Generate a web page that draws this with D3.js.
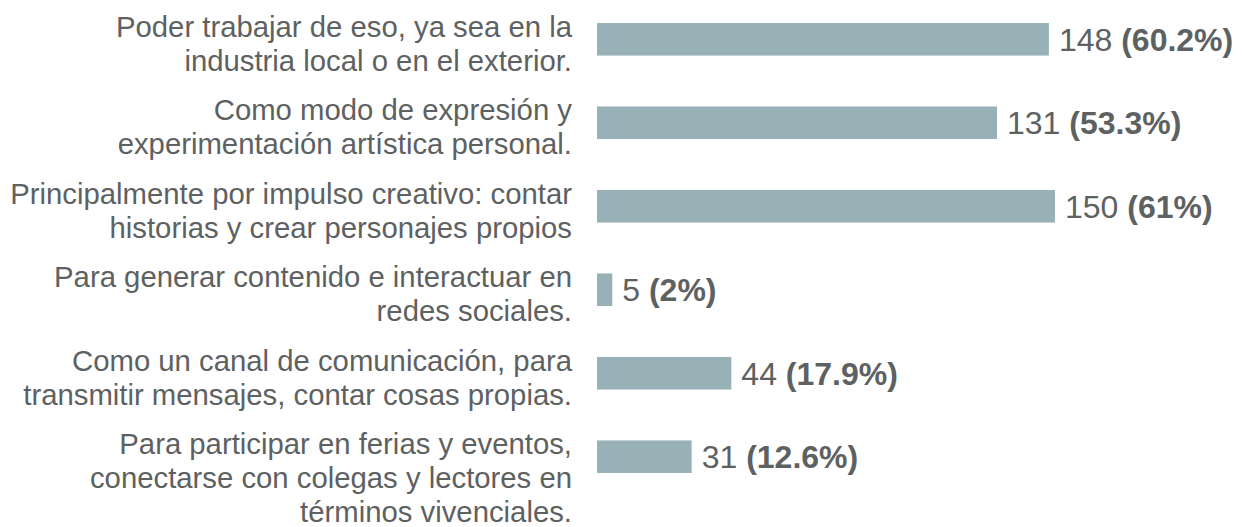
<!DOCTYPE html>
<html>
<head>
<meta charset="utf-8">
<script src="https://cdn.jsdelivr.net/npm/d3@7"></script>
<style>
  html, body { margin: 0; padding: 0; background: #fff; }
  svg { display: block; }
  text { font-family: "Liberation Sans", Arial, sans-serif; }
</style>
</head>
<body>
<div id="chart"></div>
<script>
// answer texts, already broken in lines like the original
const categories = [
  ['Poder trabajar de eso, ya sea en la', 'industria local o en el exterior.'],
  ['Como modo de expresión y', 'experimentación artística personal.'],
  ['Principalmente por impulso creativo: contar', 'historias y crear personajes propios'],
  ['Para generar contenido e interactuar en', 'redes sociales.'],
  ['Como un canal de comunicación, para', 'transmitir mensajes, contar cosas propias.'],
  ['Para participar en ferias y eventos,', 'conectarse con colegas y lectores en', 'términos vivenciales.']
];
const counts = [148, 131, 150, 5, 44, 31];
const percents = ['60.2%', '53.3%', '61%', '2%', '17.9%', '12.6%'];

const W = 1242, H = 527;
const barLeft = 597;
const textColor = '#5d6161';

const svg = d3.select('#chart').append('svg')
  .attr('width', W).attr('height', H);

const idx = d3.range(categories.length);

const x = d3.scaleLinear().domain([0, 150]).range([0, 458]);
const y = d3.scaleBand().domain(idx).range([23, 473]).paddingInner(0.61);

const row = svg.selectAll('g.row').data(idx).enter().append('g')
  .attr('class', 'row');

row.append('rect')
  .attr('x', barLeft)
  .attr('y', i => y(i))
  .attr('width', i => x(counts[i]))
  .attr('height', y.bandwidth())
  .attr('fill', '#98b1b7');

// value labels: count + bold percent
const val = row.append('text')
  .attr('x', i => barLeft + x(counts[i]) + 10)
  .attr('y', i => y(i) + y.bandwidth() / 2)
  .attr('dy', '0.36em')
  .attr('fill', textColor)
  .attr('font-size', '32px');
val.append('tspan').text(i => counts[i] + ' ');
val.append('tspan').attr('font-weight', 'bold').text(i => '(' + percents[i] + ')');

// category labels, right aligned
const lab = row.append('text')
  .attr('text-anchor', 'end')
  .attr('fill', textColor)
  .attr('font-size', '29.3px');
lab.selectAll('tspan').data(i => categories[i].map(t => ({ t, i }))).enter()
  .append('tspan')
  .attr('x', 572)
  .attr('y', (d, k) => y(d.i) + 14 + k * 34)
  .text(d => d.t);
</script>
</body>
</html>
